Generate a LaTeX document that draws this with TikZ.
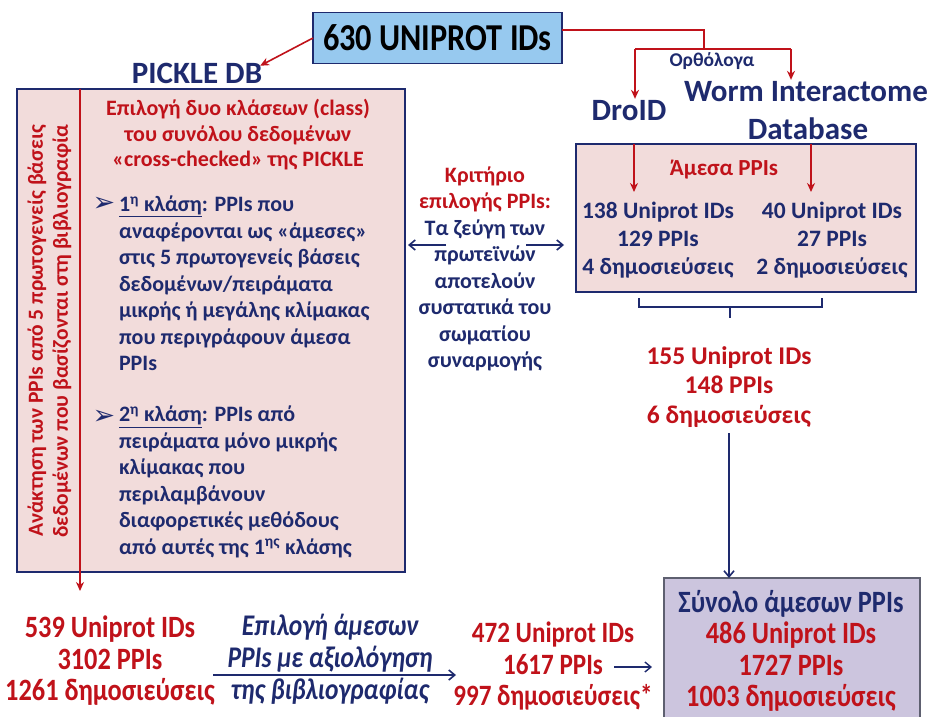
\documentclass[tikz,border=0pt]{standalone}
\usepackage{fontspec}
\setmainfont{Carlito}
\newfontfamily\condfont{Carlito}[FakeStretch=0.85]
\newfontfamily\symfont{DejaVu Sans}
\usetikzlibrary{arrows.meta}
\definecolor{navy}{HTML}{1E2A6E}
\definecolor{dred}{HTML}{C0121A}
\definecolor{pinkf}{HTML}{F2DCDB}
\definecolor{lblue}{HTML}{97C9EF}
\definecolor{lav}{HTML}{CCC5DE}
\definecolor{lavborder}{HTML}{5E6070}
\newcommand\fsz[2]{\fontsize{#1}{#2}\selectfont}
\begin{document}
\begin{tikzpicture}[x=1pt,y=-1pt,
  every node/.style={inner sep=0pt, outer sep=0pt},
  redarr/.style={draw=dred, line width=1.6pt, -{Stealth[length=9pt,width=8pt]}},
  redln/.style={draw=dred, line width=1.6pt},
  bluearr/.style={draw=navy, line width=1.6pt, -{Straight Barb[length=6pt,width=10pt]}},
  panel/.style={draw=navy, fill=pinkf, line width=2pt},
  body/.style={text=navy, font=\bfseries\fsz{22}{26.5}},
  bottxt/.style={align=center, font=\condfont\bfseries\fsz{31}{31.5}}
]
\fill[white] (0,0) rectangle (932,717);
\useasboundingbox (0,0) rectangle (932,717);

% top box
\node[draw=navy, fill=lblue, line width=1.5pt, minimum width=249pt, minimum height=51pt,
      font=\condfont\bfseries\fsz{38}{40}] (top) at (437.5,38) {630 UNIPROT IDs};
\node[text=navy, font=\bfseries\fsz{31}{36}] (pickle) at (197,73) {PICKLE DB};
\draw[redarr] (top.west) -- ([xshift=-2pt,yshift=-3pt]pickle.north east);

% orthologs
\node[text=navy, font=\bfseries\fsz{31}{36}] (droid) at (629,111) {DroID};
\node[text=navy, font=\bfseries\fsz{31}{36}] (worm) at (806,92) {Worm Interactome};
\node[text=navy, font=\bfseries\fsz{31}{36}] (db) at (808,129) {Database};
\node[text=navy, font=\bfseries\fsz{19.5}{22}] (ortho) at (712,61) {Ορθόλογα};
\coordinate (jn) at (704,49);
\coordinate (jl) at (635,49);
\coordinate (jr) at (791,49);
\draw[redln] ([yshift=8pt]top.east) -| (jn);
\draw[redln] (jl) -- (jr);
\draw[redarr] (jl) -- ([yshift=2pt]jl |- droid.north);
\draw[redarr] (jr) -- ([yshift=2pt]jr |- worm.north);

% left panel
\node[panel, minimum width=388pt, minimum height=483pt, anchor=north west] (lbox) at (17,89) {};
\coordinate (dtop) at (80,89);
\coordinate (dbot) at (80,591);
\draw[redarr] (dtop) -- (dbot);
\node[rotate=90, align=center, text=dred, font=\bfseries\fsz{21.5}{25}] (side) at (49.5,331)
  {Ανάκτηση των PPIs από 5 πρωτογενείς βάσεις\\δεδομένων που βασίζονται στη βιβλιογραφία};
\node[align=center, text=dred, font=\bfseries\fsz{22}{25.5}] (hdr) at (238,135)
  {Επιλογή δυο κλάσεων (class)\\του συνόλου δεδομένων\\«cross-checked» της PICKLE};
\node[text=navy, font=\symfont\fsz{27}{28}] (bul1) at (104,204) {➢};
\node[body, align=left, anchor=west] (b1) at (119,283.5)
  {\underline{1\textsuperscript{η} κλάση}: PPIs που\\αναφέρονται ως «άμεσες»\\στις 5 πρωτογενείς βάσεις\\δεδομένων/πειράματα\\μικρής ή μεγάλης κλίμακας\\που περιγράφουν άμεσα\\PPIs};
\node[text=navy, font=\symfont\fsz{27}{28}] (bul2) at (104,417) {➢};
\node[body, align=left, anchor=west] (b2) at (119,482)
  {\underline{2\textsuperscript{η} κλάση}: PPIs από\\πειράματα μόνο μικρής\\κλίμακας που\\περιλαμβάνουν\\διαφορετικές μεθόδους\\από αυτές της 1\textsuperscript{ης} κλάσης};

% middle criterion
\node[body, align=center] (crit) at (485,269)
  {\textcolor{dred}{Κριτήριο}\\\textcolor{dred}{επιλογής PPIs:}\\Τα ζεύγη των\\πρωτεϊνών\\αποτελούν\\συστατικά του\\σωματίου\\συναρμογής};

% right panel
\node[panel, minimum width=340pt, minimum height=148pt, anchor=north west] (rbox) at (576,144) {};
\coordinate (al) at (446,245);
\coordinate (ar) at (526,245);
\draw[bluearr] (al) -- ([xshift=3pt]al -| lbox.east);
\draw[bluearr] (ar) -- ([xshift=-12pt]ar -| rbox.west);
\coordinate (ra1) at (634,192);
\coordinate (ra2) at (811,192);
\draw[redarr] (ra1 |- rbox.north) -- (ra1);
\draw[redarr] (ra2 |- rbox.north) -- (ra2);
\node[text=dred, font=\bfseries\fsz{23}{26}] (amesa) at (724,170) {Άμεσα PPIs};
\node[align=center, text=navy, font=\bfseries\fsz{23.5}{28}] (dcol) at (658,240)
  {138 Uniprot IDs\\129 PPIs\\4 δημοσιεύσεις};
\node[align=center, text=navy, font=\bfseries\fsz{23.5}{28}] (wcol) at (832,240)
  {40 Uniprot IDs\\27 PPIs\\2 δημοσιεύσεις};

% brace
\coordinate (brl) at (639,298);
\coordinate (brr) at (822,298);
\coordinate (brc) at (730,318);
\draw[navy, line width=1.6pt] (brl) -- (brl |- 0,307) -- (brr |- 0,307) -- (brr);
\draw[navy, line width=1.6pt] (brc |- 0,307) -- (brc);

\node[align=center, text=dred, font=\bfseries\fsz{25.5}{29.5}] (sum) at (729,387)
  {155 Uniprot IDs\\148 PPIs\\6 δημοσιεύσεις};

% bottom right box
\node[draw=lavborder, fill=lav, line width=1.2pt, minimum width=256pt, minimum height=142pt, anchor=north west] (tot) at (664,578) {};
\node[bottxt] (totxt) at (791,651)
  {\textcolor{navy}{Σύνολο άμεσων PPIs}\\\textcolor{dred}{486 Uniprot IDs}\\\textcolor{dred}{1727 PPIs}\\\textcolor{dred}{1003 δημοσιεύσεις}};
\draw[bluearr] ([yshift=-6pt]sum.south) -- (sum.south |- tot.north);

% bottom row
\node[bottxt, text=dred] (pk) at (110,661)
  {539 Uniprot IDs\\3102 PPIs\\1261 δημοσιεύσεις};
\node[bottxt, text=navy, font=\condfont\bfseries\itshape\fsz{30}{32}] (sel) at (330,659)
  {Επιλογή άμεσων\\PPIs με αξιολόγηση\\της βιβλιογραφίας};
\node[bottxt, text=dred, font=\condfont\bfseries\fsz{29.5}{31.5}] (res) at (553,666)
  {472 Uniprot IDs\\1617 PPIs\\997 δημοσιεύσεις*};
\coordinate (s1) at (213,675);
\coordinate (s2) at (456,675);
\draw[bluearr] (s1) -- (s2);
\coordinate (t1) at (614,667);
\draw[bluearr, line width=1.4pt] (t1) -- ([xshift=-12pt]t1 -| tot.west);
\end{tikzpicture}
\end{document}
